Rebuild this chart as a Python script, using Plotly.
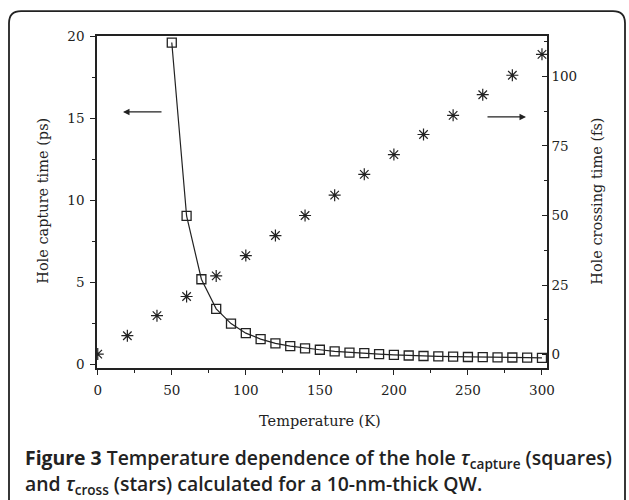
import plotly.graph_objects as go

# Data
temp_capture = [50, 60, 70, 80, 90, 100, 110, 120, 130, 140, 150, 160, 170, 180, 190,
                200, 210, 220, 230, 240, 250, 260, 270, 280, 290, 300]
tau_capture_ps = [19.6, 9.05, 5.2, 3.4, 2.5, 1.92, 1.56, 1.3, 1.13, 1.0, 0.91, 0.81, 0.74,
                  0.7, 0.64, 0.6, 0.56, 0.53, 0.51, 0.49, 0.47, 0.46, 0.45, 0.44, 0.43, 0.42]

temp_cross = [0, 20, 40, 60, 80, 100, 120, 140, 160, 180, 200, 220, 240, 260, 280, 300]
tau_cross_fs = [0.2, 6.8, 14.0, 20.9, 28.3, 35.6, 42.8, 50.0, 57.3, 64.8, 71.9, 79.1,
                86.0, 93.4, 100.4, 107.9]

W, H = 629, 500
L, R, T, B = 97, 547, 36, 368.5

def px(x):
    return (x - L) / (R - L)

def py(y):
    return (B - y) / (B - T)

serif = "DejaVu Serif, Liberation Serif, serif"
tick_font = dict(family=serif, size=13.5, color="#222")
title_font = dict(family=serif, size=14.5, color="#222")

fig = go.Figure()
fig.add_trace(go.Scatter(
    x=temp_capture, y=tau_capture_ps, mode="lines+markers",
    line=dict(color="#222", width=1.2),
    marker=dict(symbol="square-open", size=9, color="#222", line=dict(width=1.3)),
    showlegend=False, yaxis="y"))
fig.add_trace(go.Scatter(
    x=temp_cross, y=tau_cross_fs, mode="markers",
    marker=dict(symbol="asterisk-open", size=10, color="#222", line=dict(width=1.2, color="#222")),
    showlegend=False, yaxis="y2"))

fig.update_layout(
    width=W, height=H,
    margin=dict(l=L, r=W - R, t=T, b=H - B),
    plot_bgcolor="white", paper_bgcolor="white",
    xaxis=dict(range=[-0.5, 303.4], dtick=50, tick0=0, ticks="outside", ticklen=5,
               tickwidth=1, tickcolor="#222", showgrid=False, zeroline=False,
               showline=True, linecolor="#222", linewidth=1.5, mirror=True,
               tickfont=tick_font, ticklabelstandoff=4,
               minor=dict(dtick=25, ticks="outside", ticklen=3, tickcolor="#222")),
    yaxis=dict(range=[-0.2, 20], dtick=5, tick0=0, ticks="outside", ticklen=5,
               tickwidth=1, tickcolor="#222", showgrid=False, zeroline=False,
               showline=True, linecolor="#222", linewidth=1.5,
               tickfont=tick_font, ticklabelstandoff=3,
               minor=dict(dtick=2.5, ticks="outside", ticklen=3, tickcolor="#222")),
    yaxis2=dict(range=[-4.8, 114.5], dtick=25, tick0=0, ticks="inside", ticklen=5,
                tickwidth=1, tickcolor="#222", showgrid=False, zeroline=False,
                showline=True, linecolor="#222", linewidth=1.5,
                overlaying="y", side="right", tickfont=tick_font, ticklabelstandoff=0,
                minor=dict(dtick=12.5, ticks="inside", ticklen=3, tickcolor="#222")),
)

# Axis titles
fig.add_annotation(xref="paper", yref="paper", x=px(320), y=py(422), showarrow=False,
                   text="Temperature (K)", font=title_font, xanchor="center", yanchor="middle")
fig.add_annotation(xref="paper", yref="paper", x=px(43), y=py(201), showarrow=False,
                   text="Hole capture time (ps)", font=title_font, textangle=-90,
                   xanchor="center", yanchor="middle")
fig.add_annotation(xref="paper", yref="paper", x=px(597), y=py(202), showarrow=False,
                   text="Hole crossing time (fs)", font=title_font, textangle=-90,
                   xanchor="center", yanchor="middle")

# Arrows
fig.add_annotation(xref="paper", yref="paper", x=px(123), y=py(112), ax=40, ay=0,
                   text="", showarrow=True,
                   arrowhead=2, arrowsize=1, arrowwidth=1.3, arrowcolor="#222")
fig.add_annotation(xref="paper", yref="paper", x=px(526), y=py(117), ax=-40, ay=0,
                   text="", showarrow=True,
                   arrowhead=2, arrowsize=1, arrowwidth=1.3, arrowcolor="#222")

# Rounded border box
x0, x1, y0, y1, r = 9, 625, 11, 520, 12
path = (f"M {px(x0+r)},{py(y0)} L {px(x1-r)},{py(y0)} "
        f"Q {px(x1)},{py(y0)} {px(x1)},{py(y0+r)} "
        f"L {px(x1)},{py(y1)} L {px(x0)},{py(y1)} L {px(x0)},{py(y0+r)} "
        f"Q {px(x0)},{py(y0)} {px(x0+r)},{py(y0)} Z")
fig.add_shape(type="path", path=path, xref="paper", yref="paper",
              line=dict(color="#222", width=1.8))

cap_font = dict(family="Open Sans, Noto Sans, sans-serif", size=19.4, color="#222", weight=600)
fig.add_annotation(xref="paper", yref="paper", x=px(23), y=py(459), xanchor="left",
                   yanchor="middle", showarrow=False, align="left", font=cap_font,
                   text="<b>Figure 3</b> Temperature dependence of the hole <i>τ</i><sub>capture</sub> (squares)")
fig.add_annotation(xref="paper", yref="paper", x=px(23), y=py(485), xanchor="left",
                   yanchor="middle", showarrow=False, align="left", font=cap_font,
                   text="and <i>τ</i><sub>cross</sub> (stars) calculated for a 10-nm-thick QW.")

fig.write_html("out.html", config={"displayModeBar": False},
               post_script="document.body.style.margin='0';")
